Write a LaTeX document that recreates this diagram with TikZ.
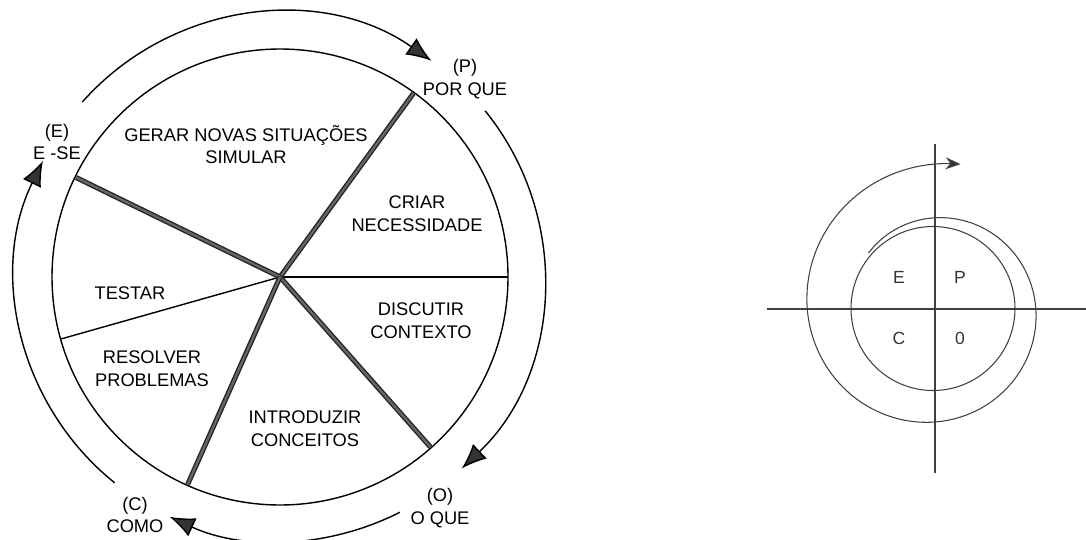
\documentclass[tikz,border=0pt]{standalone}
\usepackage{fontspec}
\setmainfont{Liberation Sans}
\usetikzlibrary{arrows.meta, calc}

\begin{document}
\begin{tikzpicture}[x=0.02cm, y=0.02cm]
    \tikzstyle{phase} = [align=center, inner sep=0pt, font=\fontsize{10.4}{13}\selectfont]
    \tikzstyle{quad} = [inner sep=0pt, text=black!80, font=\fontsize{10}{12}\selectfont]
    \tikzstyle{rim} = [line width=0.8pt, black]
    \tikzstyle{bigspoke} = [draw=black!85, line width=0.8pt, double=black!60, double distance=1.3pt]
    \tikzstyle{turn} = [line width=0.8pt, -{Latex[length=0.5cm, width=0.4cm, fill=black!80]}]
    \tikzstyle{axis} = [line width=0.6pt, black!75]
    \tikzstyle{spiral} = [line width=0.6pt, black!75, -{Stealth[length=0.3cm, width=0.24cm, fill=black!80]}]

    \useasboundingbox (0,0) rectangle (1086,539);

    \coordinate (c1) at (280,262);
    \draw [rim] (c1) circle (228);
    \draw [rim] (c1) -- ($(c1)+(0:228)$);
    \draw [rim] (c1) -- ($(c1)+(-164.2:228)$);
    \foreach \a in {54, 154, -48.5, -114}
        \draw [bigspoke] (c1) -- ($(c1)+(\a:227)$);

    \draw [turn] ($(c1)+(138.5:264)$) arc [start angle=138.5, end angle=55, radius=264];
    \draw [turn] ($(c1)+(39:264)$) arc [start angle=39, end angle=-46.5, radius=264];
    \draw [turn] ($(c1)+(-63:264)$) arc [start angle=-63, end angle=-114.7, radius=264];
    \draw [turn] ($(c1)+(-128.8:264)$) arc [start angle=-128.8, end angle=-206.1, radius=264];

    \node (porque) [phase] at (465,460) {(P)\\POR QUE};
    \node (ese) [phase] at (57,397) {(E)\\E -SE};
    \node (oque) [phase] at (440,31) {(O)\\O QUE};
    \node (como) [phase] at (135,24) {(C)\\COMO};
    \node (gerar) [phase] at (246,394.5) {GERAR NOVAS SITUAÇÕES\\SIMULAR};
    \node (criar) [phase] at (417,325.5) {CRIAR\\NECESSIDADE};
    \node (testar) [phase] at (130,246) {TESTAR};
    \node (discutir) [phase] at (421,218) {DISCUTIR\\CONTEXTO};
    \node (resolver) [phase] at (152,170.5) {RESOLVER\\PROBLEMAS};
    \node (introduzir) [phase] at (305,110.5) {INTRODUZIR\\CONCEITOS};

    \coordinate (c2) at (935,230);
    \coordinate (west) at (767,230);
    \coordinate (east) at (1086,230);
    \coordinate (north) at (935,395);
    \coordinate (south) at (935,66);
    \draw [axis] (west) -- (east);
    \draw [axis] (north) -- (south);
    \draw [axis] (933,230.5) circle (82);
    \draw [spiral, shift={(c2)}] plot [smooth, variable=\t, domain=140:-280, samples=70]
        ({\t}:{87+0.0767*(140-\t)+0.0158*((140-\t)/10)^2});

    \node (e) [quad] at (899,262) {E};
    \node (p) [quad] at (960,262) {P};
    \node (c) [quad] at (899,201) {C};
    \node (o) [quad] at (960,201) {0};
\end{tikzpicture}
\end{document}
